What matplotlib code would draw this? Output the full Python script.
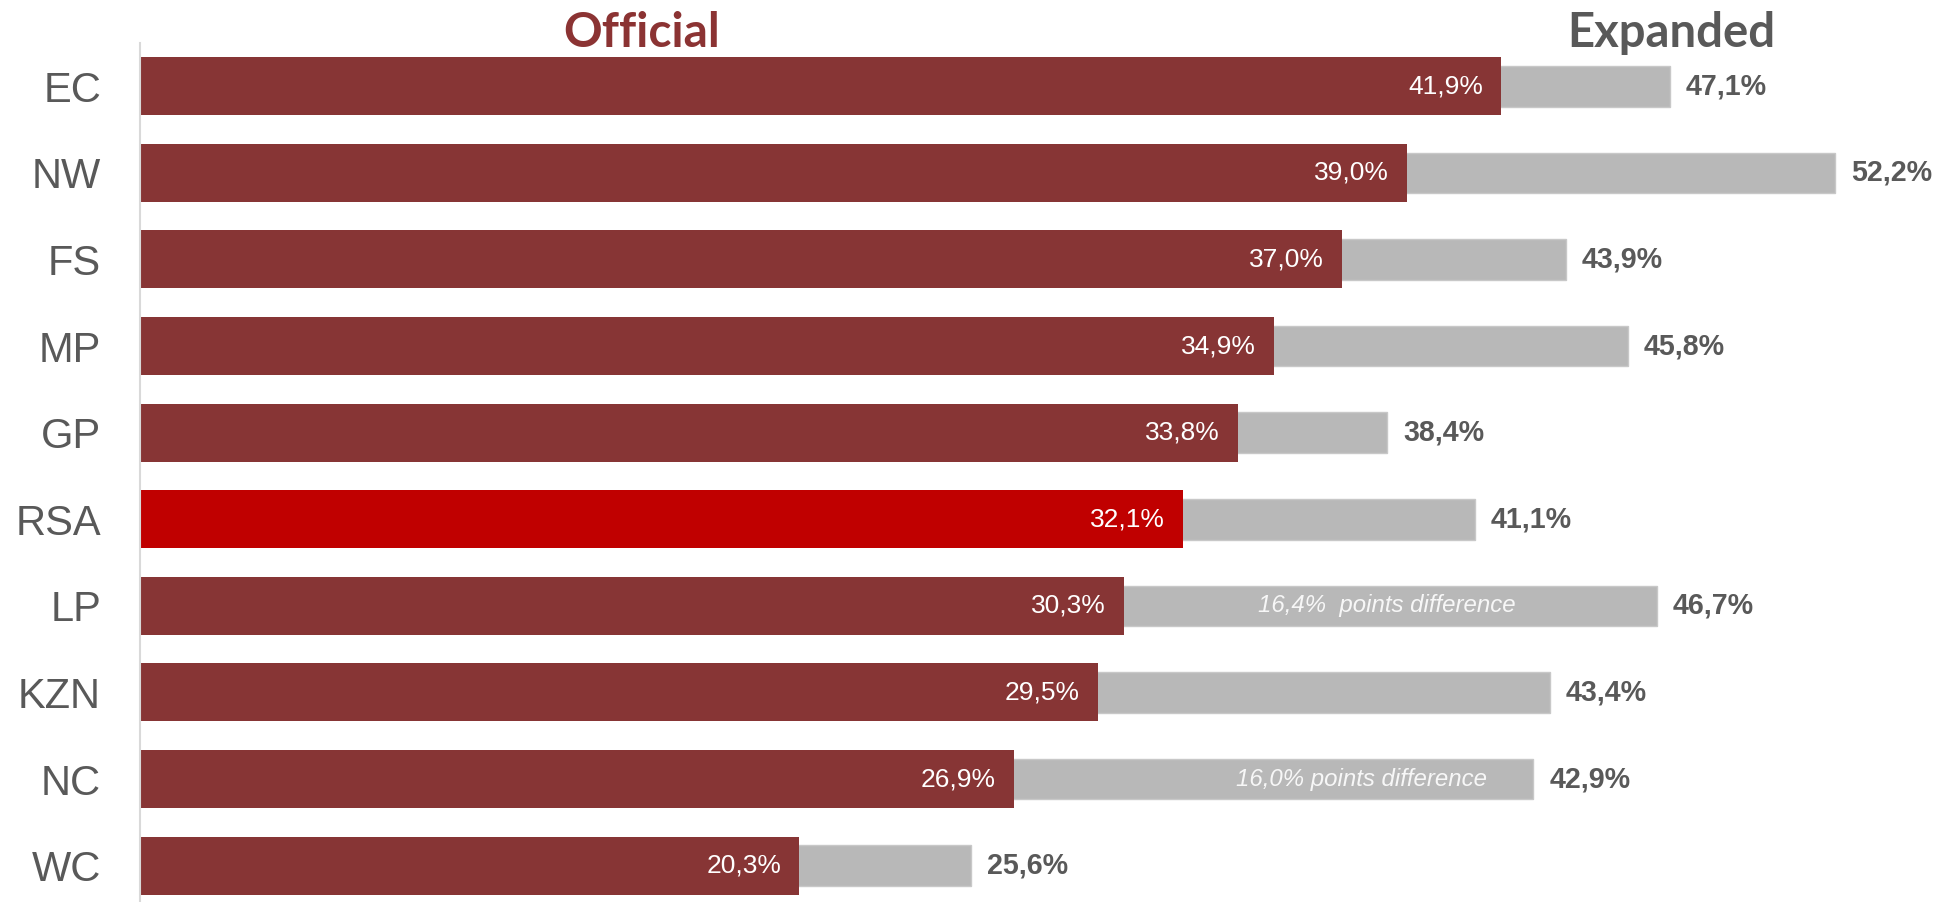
import matplotlib
matplotlib.use("Agg")
import matplotlib.pyplot as plt

regions = ['EC', 'NW', 'FS', 'MP', 'GP', 'RSA', 'LP', 'KZN', 'NC', 'WC']
official = [41.9, 39.0, 37.0, 34.9, 33.8, 32.1, 30.3, 29.5, 26.9, 20.3]
expanded = [47.1, 52.2, 43.9, 45.8, 38.4, 41.1, 46.7, 43.4, 42.9, 25.6]
note_rows = ['LP', 'NC']
note_texts = ['16,4%  points difference', '16,0% points difference']

DARK = '#873535'
HIGHLIGHT = '#C00000'
GRAY = '#B8B8B8'
TXT = '#595959'

def fmt(v):
    return f"{v:.1f}".replace('.', ',') + '%'

W, H, DPI = 1939, 902, 100
fig = plt.figure(figsize=(W / DPI, H / DPI), dpi=DPI)
ax = fig.add_axes([140 / W, 0, 1 - 140 / W, 1 - 43 / H])

y = list(range(len(regions)))
ax.barh(y, expanded, height=0.47, color=GRAY, edgecolor='#C8C8C8', linewidth=1, zorder=1)
dark_cols = [HIGHLIGHT if r == 'RSA' else DARK for r in regions]
ax.barh(y, official, height=0.67, color=dark_cols, zorder=2)

ax.set_xlim(0, (W - 140) / 32.48)
ax.set_ylim(9.42, -0.5)

for i, (o, e) in enumerate(zip(official, expanded)):
    ax.annotate(fmt(o), xy=(o, i), xytext=(-13, 0), textcoords='offset points',
                ha='right', va='center', color='white', fontsize=19,
                family=['Liberation Sans Narrow', 'Liberation Sans', 'DejaVu Sans'], zorder=3)
    ax.annotate(fmt(e), xy=(e, i), xytext=(11.5, 0), textcoords='offset points',
                ha='left', va='center', color=TXT, fontsize=20.6, fontweight='bold',
                family=['Liberation Sans', 'DejaVu Sans'], zorder=3)

note_x = [38.4, 37.6]
for r, t, nx in zip(note_rows, note_texts, note_x):
    i = regions.index(r)
    ax.text(nx, i, t, ha='center', va='center', color='#F7F7F7', fontsize=17.3,
            style='italic', family=['Liberation Sans Narrow', 'Liberation Sans', 'DejaVu Sans'], zorder=3)

ax.set_yticks(y)
ax.set_yticklabels(regions, fontsize=30, color=TXT, family=['Liberation Sans', 'DejaVu Sans'])
ax.tick_params(axis='y', length=0, pad=28)
ax.set_xticks([])
for s in ['top', 'right', 'bottom']:
    ax.spines[s].set_visible(False)
ax.spines['left'].set_color('#D9D9D9')
ax.spines['left'].set_linewidth(1.5)

fig.text(642 / W, 1 - 47 / H, 'Official', ha='center', va='baseline', fontsize=34.5,
         fontweight='bold', color='#8B3333', family=['Lato', 'DejaVu Sans'])
fig.text(1671 / W, 1 - 47 / H, 'Expanded', ha='center', va='baseline', fontsize=34,
         fontweight='bold', color=TXT, family=['Lato', 'DejaVu Sans'])

fig.savefig('out.png', dpi=DPI)
